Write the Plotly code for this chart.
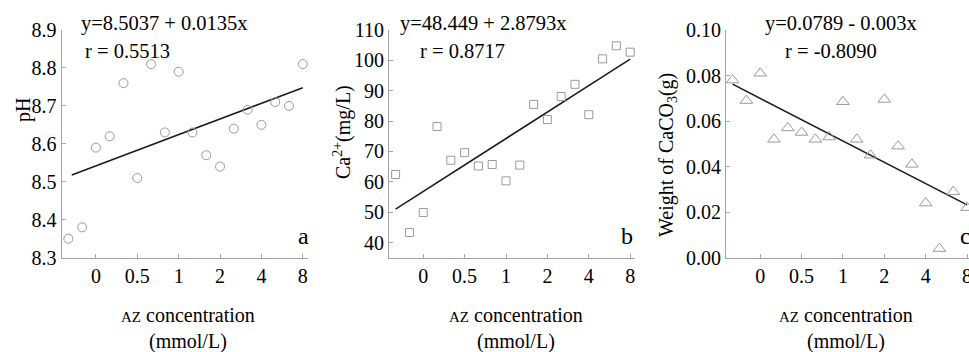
import plotly.graph_objects as go

# ---- data ----
x_pos = [1, 2, 3, 4, 5, 6, 7, 8, 9, 10, 11, 12, 13, 14, 15, 16, 17, 18]
tick_pos = [3, 6, 9, 12, 15, 18]
tick_labels = ["0", "0.5", "1", "2", "4", "8"]

ph = [8.35, 8.38, 8.59, 8.62, 8.76, 8.51, 8.81, 8.63, 8.79, 8.63, 8.57, 8.54,
      8.64, 8.69, 8.65, 8.71, 8.70, 8.81]
ca = [62.4, 43.3, 49.9, 78.2, 67.1, 69.6, 65.2, 65.7, 60.3, 65.5, 85.5, 80.5,
      88.1, 92.1, 82.1, 100.5, 104.8, 102.7]
caco3 = [0.078, 0.069, 0.081, 0.052, 0.057, 0.055, 0.052, 0.053, 0.0685, 0.052,
         0.045, 0.0695, 0.049, 0.041, 0.024, 0.004, 0.029, 0.022]

trend_a_x = [1.25, 18]
trend_a_y = [8.518, 8.748]
trend_b_x = [1, 18]
trend_b_y = [51.0, 100.4]
trend_c_x = [1, 18]
trend_c_y = [0.0762, 0.0232]

eq_a = ["y=8.5037 + 0.0135x", "r = 0.5513"]
eq_b = ["y=48.449 + 2.8793x", "r = 0.8717"]
eq_c = ["y=0.0789 - 0.003x", "r = -0.8090"]

# ---- layout geometry ----
W, H = 969, 352
FONT = "Liberation Serif"
GRAY = "#a3a3a3"
MK = "#9a9a9a"

def px(x):
    return x / W

def py(y):
    return 1 - y / H

y_dom = [py(257.7), py(30)]
panels = [
    dict(dom=[px(61.7), px(308.3)], xr=[0.52, 18.4], yr=[8.3, 8.9], dt=0.1, fmt=".1f"),
    dict(dom=[px(389), px(635)], xr=[0.52, 18.35], yr=[35, 110], dt=10, fmt="d"),
    dict(dom=[px(726), 1.0], xr=[0.52, 18.14], yr=[0, 0.1], dt=0.02, fmt=".2f"),
]

fig = go.Figure()

series = [
    (ph, "circle-open", 9, trend_a_x, trend_a_y),
    (ca, "square-open", 8, trend_b_x, trend_b_y),
    (caco3, "triangle-up-open", 11, trend_c_x, trend_c_y),
]
for i, (vals, sym, sz, tx, ty) in enumerate(series):
    xa = "x" if i == 0 else f"x{i+1}"
    ya = "y" if i == 0 else f"y{i+1}"
    fig.add_trace(go.Scatter(x=tx, y=ty, mode="lines", xaxis=xa, yaxis=ya,
                             line=dict(color="#1a1a1a", width=1.5),
                             showlegend=False, cliponaxis=False))
    fig.add_trace(go.Scatter(x=x_pos, y=vals, mode="markers", xaxis=xa, yaxis=ya,
                             marker=dict(symbol=sym, size=sz, color=MK,
                                         line=dict(color=MK, width=1)),
                             showlegend=False, cliponaxis=False))

layout = dict(width=W, height=H,
              margin=dict(l=0, r=0, t=0, b=0, pad=0, autoexpand=False),
              showlegend=False,
              paper_bgcolor="white", plot_bgcolor="white",
              font=dict(family=FONT, size=20, color="black"))

for i, p in enumerate(panels):
    sx = "" if i == 0 else str(i + 1)
    layout[f"xaxis{sx}"] = dict(domain=p["dom"], range=p["xr"], anchor=f"y{sx}",
                                tickmode="array", tickvals=tick_pos, ticktext=tick_labels,
                                showline=True, linecolor=GRAY, linewidth=1.2,
                                ticks="inside", ticklen=4, tickcolor=GRAY,
                                showgrid=False, zeroline=False, automargin=False,
                                ticklabeloverflow="allow",
                                tickfont=dict(family=FONT, size=20, color="black"))
    layout[f"yaxis{sx}"] = dict(domain=y_dom, range=p["yr"], anchor=f"x{sx}",
                                dtick=p["dt"], tick0=0, tickformat=p["fmt"],
                                showline=True, linecolor=GRAY, linewidth=1.2,
                                ticks="inside", ticklen=4, tickcolor=GRAY,
                                showgrid=False, zeroline=False, automargin=False,
                                tickfont=dict(family=FONT, size=20, color="black"))

fig.update_layout(**layout)

ann = []
# equations
for (l1, l2), (x1, x2) in zip([eq_a, eq_b, eq_c], [(79, 83), (398, 418), (763, 783)]):
    ann.append(dict(x=px(x1), y=py(24), xref="paper", yref="paper", text=l1,
                    showarrow=False, xanchor="left", yanchor="middle",
                    font=dict(family=FONT, size=20.5, color="black")))
    ann.append(dict(x=px(x2), y=py(51), xref="paper", yref="paper", text=l2,
                    showarrow=False, xanchor="left", yanchor="middle",
                    font=dict(family=FONT, size=20.5, color="black")))
# panel letters
for letter, xc in [("a", 303), ("b", 627), ("c", 965)]:
    ann.append(dict(x=px(xc), y=py(236), xref="paper", yref="paper", text=letter,
                    showarrow=False, xanchor="center", yanchor="middle",
                    font=dict(family=FONT, size=24, color="black")))
# y titles
for txt, xc, yc in [("pH", 23, 110),
                    ("Ca<sup>2+</sup>(mg/L)", 342, 132),
                    ("Weight of CaCO<sub>3</sub>(g)", 667, 155)]:
    ann.append(dict(x=px(xc), y=py(yc), xref="paper", yref="paper", text=txt,
                    textangle=-90, showarrow=False, xanchor="center", yanchor="middle",
                    font=dict(family=FONT, size=20, color="black")))
# x titles
for xc in [188, 516, 846]:
    ann.append(dict(x=px(xc), y=py(328), xref="paper", yref="paper",
                    text="<span style='font-size:15px'>AZ</span> concentration<br>(mmol/L)",
                    showarrow=False, xanchor="center", yanchor="middle",
                    font=dict(family=FONT, size=20, color="black")))
fig.update_layout(annotations=ann)

fig.write_html("out.html", config={"displayModeBar": False},
               post_script="document.body.style.margin='0';document.body.style.overflow='hidden';")
